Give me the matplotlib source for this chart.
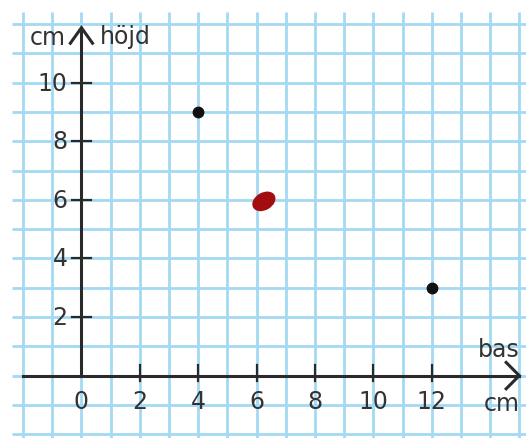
import matplotlib
matplotlib.use("Agg")
import matplotlib.pyplot as plt
from matplotlib.patches import Ellipse

plt.rcParams['font.family'] = ['DejaVu Sans']

# Points plotted in the coordinate system (bas, höjd) in cm
bas_values = [4, 12]
hojd_values = [9, 3]
# Hand-marked point
marked_bas = 6.25
marked_hojd = 5.95

x_ticks = [0, 2, 4, 6, 8, 10, 12]
y_ticks = [2, 4, 6, 8, 10]

grid_color = '#a2d9f3'
axis_color = '#2a2a2a'
text_color = '#333333'
fs = 17

fig = plt.figure(figsize=(5.26, 4.39), dpi=100)
ax = fig.add_axes([0, 0, 1, 1])
ax.set_xlim(-2.79, 15.23)
ax.set_ylim(-2.13, 12.86)
ax.axis('off')

# Square grid paper
x_left, y_top = -2.38, 12.42
for gx in range(-2, 16):
    ax.plot([gx, gx], [-2.13, y_top], color=grid_color, lw=2.0, zorder=1,
            solid_capstyle='butt')
for gy in range(-2, 13):
    ax.plot([x_left, 15.23], [gy, gy], color=grid_color, lw=2.0, zorder=1,
            solid_capstyle='butt')

# Axes with open arrowheads
ax.plot([-2, 14.98], [0, 0], color=axis_color, lw=2.2, zorder=3)
ax.plot([14.55, 15.0, 14.55], [0.45, 0, -0.45], color=axis_color, lw=2.2,
        zorder=3, solid_joinstyle='miter')
ax.plot([0, 0], [0, 11.85], color=axis_color, lw=2.2, zorder=3)
ax.plot([-0.38, 0, 0.38], [11.35, 11.88, 11.35], color=axis_color, lw=2.2,
        zorder=3, solid_joinstyle='miter')

# Tick marks and labels
for t in x_ticks[1:]:
    ax.plot([t, t], [-0.2, 0.36], color=axis_color, lw=1.6, zorder=3)
for t in x_ticks:
    ax.text(t, -0.86, str(t), ha='center', va='center', fontsize=fs,
            color=text_color, zorder=4)
for t in y_ticks:
    ax.plot([-0.32, 0.32], [t, t], color=axis_color, lw=1.6, zorder=3)
    ax.text(-0.48, t, str(t), ha='right', va='center', fontsize=fs,
            color=text_color, zorder=4)

# Axis titles
ax.text(-0.55, 11.56, 'cm', ha='right', va='center', fontsize=fs,
        color=text_color, zorder=4)
ax.text(0.62, 11.6, 'höjd', ha='left', va='center', fontsize=fs,
        color=text_color, zorder=4)
ax.text(15.0, 0.92, 'bas', ha='right', va='center', fontsize=fs,
        color=text_color, zorder=4)
ax.text(15.0, -0.95, 'cm', ha='right', va='center', fontsize=fs,
        color=text_color, zorder=4)

# Points
ax.plot(bas_values, hojd_values, 'o', color='#111111', markersize=7.5,
        zorder=5)
ax.add_patch(Ellipse((marked_bas, marked_hojd), 0.8, 0.55, angle=30,
                     color='#a30d0f', zorder=5))

fig.savefig('out.png', dpi=100)
